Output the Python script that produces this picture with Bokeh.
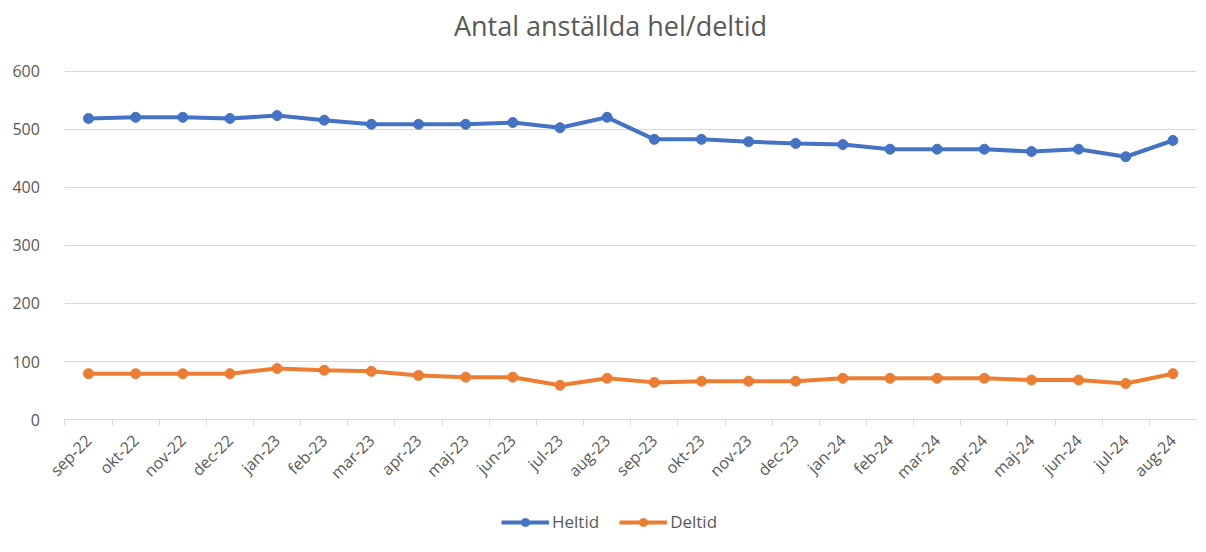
from bokeh.plotting import figure
from bokeh.models import FixedTicker, Legend, LegendItem, ColumnDataSource, Range1d, Label
from bokeh.embed import file_html
from bokeh.resources import INLINE
import math

months = ["sep-22", "okt-22", "nov-22", "dec-22", "jan-23", "feb-23", "mar-23", "apr-23",
          "maj-23", "jun-23", "jul-23", "aug-23", "sep-23", "okt-23", "nov-23", "dec-23",
          "jan-24", "feb-24", "mar-24", "apr-24", "maj-24", "jun-24", "jul-24", "aug-24"]
heltid = [519, 521, 521, 519, 524, 516, 509, 509, 509, 512, 503, 521,
          483, 483, 479, 476, 474, 466, 466, 466, 462, 466, 453, 481]
deltid = [79, 79, 79, 79, 88, 85, 83, 76, 73, 73, 59, 71,
          64, 66, 66, 66, 71, 71, 71, 71, 68, 68, 62, 79]
yticks = [0, 100, 200, 300, 400, 500, 600]
title_text = "Antal anställda hel/deltid"

FONT = "Open Sans"
GRAY = "#595959"
GRID = "#d9d9d9"
BLUE = "#4472C4"
ORANGE = "#ED7D31"

n = len(months)
idx = list(range(n))
src = ColumnDataSource(dict(x=idx, h=heltid, d=deltid))
grid_src = ColumnDataSource(dict(y=yticks, x0=[-0.5] * len(yticks), x1=[n - 0.5] * len(yticks)))

# frame covers the whole canvas; axes are fixed inside it
p = figure(width=1206, height=552, output_backend="svg", toolbar_location=None,
           x_range=Range1d(-1.866, n - 0.5), y_range=Range1d(-229.3, 722.4),
           min_border_left=0, min_border_right=10, min_border_top=0, min_border_bottom=0)
p.outline_line_color = None
p.background_fill_color = "white"
p.border_fill_color = "white"
p.title.visible = False

p.xgrid.grid_line_color = None
p.ygrid.grid_line_color = None
p.segment(x0="x0", x1="x1", y0="y", y1="y", source=grid_src, line_color=GRID, line_width=1)

# x axis at value 0
xa = p.xaxis[0]
xa.fixed_location = 0
xa.bounds = (-0.5, n - 0.5)
xa.ticker = FixedTicker(ticks=idx, minor_ticks=[i - 0.5 for i in range(n + 1)])
xa.major_label_overrides = {i: m for i, m in enumerate(months)}
xa.major_label_orientation = math.pi / 4
xa.major_tick_line_color = None
xa.minor_tick_line_color = GRID
xa.minor_tick_out = 6
xa.minor_tick_in = 0
xa.axis_line_color = GRID
xa.major_label_text_font = FONT
xa.major_label_text_font_size = "16px"
xa.major_label_text_color = GRAY
xa.major_label_standoff = 12

# y axis at the left edge of the category area
ya = p.yaxis[0]
ya.fixed_location = -0.5
ya.bounds = (0, 600)
ya.ticker = FixedTicker(ticks=yticks)
ya.axis_line_color = None
ya.major_tick_line_color = None
ya.minor_tick_line_color = None
ya.major_label_text_font = FONT
ya.major_label_text_font_size = "16px"
ya.major_label_text_color = GRAY
ya.major_label_standoff = 19

lh = p.line("x", "h", source=src, line_color=BLUE, line_width=4)
ch = p.scatter("x", "h", source=src, size=10, fill_color=BLUE, line_color=BLUE)
ld = p.line("x", "d", source=src, line_color=ORANGE, line_width=4)
cd = p.scatter("x", "d", source=src, size=10, fill_color=ORANGE, line_color=ORANGE)

title = Label(x=610, y=527, x_units="screen", y_units="screen", text=title_text,
              text_align="center", text_baseline="middle", text_font=FONT,
              text_font_size="27px", text_color=GRAY)
p.add_layout(title)

legend = Legend(items=[LegendItem(label="Heltid", renderers=[lh, ch]),
                       LegendItem(label="Deltid", renderers=[ld, cd])],
                orientation="horizontal", location=(501, 19),
                label_text_font=FONT, label_text_font_size="17px", label_text_color=GRAY,
                glyph_width=48, glyph_height=20, spacing=20, padding=4, margin=0,
                border_line_color=None, background_fill_alpha=0, label_standoff=3)
p.add_layout(legend, "center")

open("out.html", "w").write(file_html(p, INLINE))
